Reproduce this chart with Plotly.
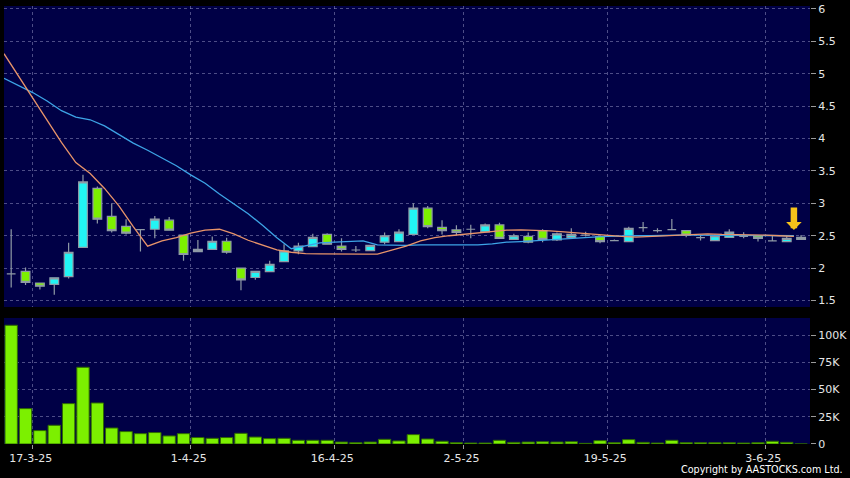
import pandas as pd
import plotly.graph_objects as go

# ---------------- data ----------------
holidays = ["2025-04-04", "2025-04-18", "2025-04-21", "2025-05-01", "2025-05-05"]
trade_dates = [d for d in pd.bdate_range("2025-03-13", "2025-06-05")
               if d.strftime("%Y-%m-%d") not in holidays]
date_keys = [f"{d.day}-{d.month}-{d.strftime('%y')}" for d in trade_dates]

tick_labels = ["17-3-25", "1-4-25", "16-4-25", "2-5-25", "19-5-25", "3-6-25"]

opens = [1.91, 1.95, 1.77, 1.75, 1.87, 2.32, 3.23, 2.80, 2.645, 2.595,
         2.60, 2.74, 2.51, 2.255, 2.29, 2.415, 2.00, 1.855, 1.945, 2.10,
         2.265, 2.33, 2.52, 2.34, 2.28, 2.27, 2.40, 2.41, 2.52, 2.925,
         2.63, 2.59, 2.60, 2.56, 2.667, 2.445, 2.49, 2.58, 2.435, 2.475,
         2.51, 2.49, 2.425, 2.41, 2.625, 2.58, 2.595, 2.58, 2.47, 2.425,
         2.475, 2.49, 2.50, 2.42, 2.41, 2.445]
highs = [2.60, 2.01, 1.77, 1.86, 2.39, 3.44, 3.26, 3.00, 2.755, 2.60,
         2.805, 2.79, 2.51, 2.435, 2.49, 2.47, 2.00, 1.95, 2.115, 2.37,
         2.39, 2.53, 2.54, 2.46, 2.34, 2.36, 2.55, 2.60, 3.00, 2.96,
         2.74, 2.66, 2.67, 2.69, 2.70, 2.53, 2.55, 2.60, 2.55, 2.615,
         2.56, 2.49, 2.44, 2.64, 2.71, 2.615, 2.76, 2.58, 2.51, 2.52,
         2.60, 2.555, 2.50, 2.505, 2.50, 2.51]
lows = [1.70, 1.74, 1.67, 1.59, 1.84, 2.32, 2.69, 2.55, 2.52, 2.255,
        2.46, 2.585, 2.115, 2.25, 2.29, 2.22, 1.66, 1.82, 1.94, 2.10,
        2.215, 2.33, 2.37, 2.255, 2.25, 2.27, 2.37, 2.41, 2.52, 2.615,
        2.52, 2.51, 2.46, 2.56, 2.46, 2.44, 2.385, 2.40, 2.42, 2.475,
        2.49, 2.385, 2.42, 2.41, 2.56, 2.55, 2.59, 2.475, 2.425, 2.425,
        2.475, 2.46, 2.41, 2.42, 2.41, 2.445]
closes = [1.91, 1.78, 1.72, 1.85, 2.245, 3.33, 2.755, 2.58, 2.54, 2.595,
          2.755, 2.585, 2.21, 2.29, 2.415, 2.245, 1.82, 1.95, 2.06, 2.265,
          2.34, 2.475, 2.37, 2.29, 2.28, 2.35, 2.50, 2.555, 2.925, 2.64,
          2.58, 2.55, 2.60, 2.667, 2.46, 2.50, 2.40, 2.445, 2.53, 2.52,
          2.51, 2.41, 2.425, 2.615, 2.625, 2.58, 2.595, 2.51, 2.47, 2.50,
          2.555, 2.49, 2.46, 2.42, 2.46, 2.475]
ma_fast = [5.31, 4.97, 4.63, 4.28, 3.94, 3.63, 3.46, 3.23, 2.96, 2.64,
           2.34, 2.42, 2.47, 2.54, 2.585, 2.60, 2.53, 2.43, 2.36, 2.28,
           2.245, 2.225, 2.22, 2.215, 2.215, 2.215, 2.215, 2.28, 2.34, 2.42,
           2.47, 2.50, 2.52, 2.54, 2.56, 2.585, 2.59, 2.585, 2.575, 2.56,
           2.54, 2.52, 2.50, 2.49, 2.48, 2.49, 2.50, 2.52, 2.53, 2.53,
           2.52, 2.52, 2.51, 2.51, 2.50, 2.49]
ma_slow = [4.93, 4.82, 4.71, 4.58, 4.43, 4.33, 4.29, 4.195, 4.06, 3.93,
           3.82, 3.70, 3.58, 3.44, 3.31, 3.145, 2.99, 2.84, 2.66, 2.47,
           2.30, 2.35, 2.39, 2.40, 2.41, 2.42, 2.36, 2.35, 2.35, 2.36,
           2.36, 2.36, 2.36, 2.36, 2.375, 2.40, 2.41, 2.425, 2.44, 2.46,
           2.47, 2.48, 2.49, 2.50, 2.50, 2.50, 2.51, 2.51, 2.51, 2.51,
           2.51, 2.51, 2.50, 2.50, 2.50, 2.50]
volumes = [109100, 32500, 12300, 17200, 37100, 70500, 37700, 14700, 11400, 9500,
           10500, 7400, 9500, 5900, 5200, 5900, 9800, 6400, 4900, 5200,
           3400, 3400, 3400, 1800, 1200, 1800, 4300, 2800, 8600, 4600,
           2500, 1200, 900, 900, 3400, 1500, 1800, 2100, 1800, 2100,
           600, 3100, 1200, 4000, 1500, 900, 3400, 1200, 1200, 1200,
           1200, 900, 1200, 2500, 1500, 0]

price_ticks = [1.5, 2, 2.5, 3, 3.5, 4, 4.5, 5, 5.5, 6]
price_tick_text = ["1.5", "2", "2.5", "3", "3.5", "4", "4.5", "5", "5.5", "6"]
vol_ticks = [0, 25000, 50000, 75000, 100000]
vol_tick_text = ["0", "25K", "50K", "75K", "100K"]

# ---------------- positions ----------------
n = len(trade_dates)
day_pos = list(range(n))                 # time position of each session
bar_pos = [d + 0.5 for d in day_pos]     # candles / volume drawn in the slot
tick_pos = [date_keys.index(t) for t in tick_labels]

# ---------------- style ----------------
NAVY = "#000046"
GRID = "rgba(140,140,190,0.55)"
EDGE = "#8f9aa6"
UP = "#22f4f4"
DOWN = "#7cf000"
FONT = "DejaVu Sans"
TXT = "#e6e6e6"

fig = go.Figure()
fig.add_trace(go.Candlestick(
    x=bar_pos, open=opens, high=highs, low=lows, close=closes,
    xaxis="x", yaxis="y", whiskerwidth=0,
    increasing=dict(fillcolor=UP, line=dict(color=EDGE, width=1.2)),
    decreasing=dict(fillcolor=DOWN, line=dict(color=EDGE, width=1.2)),
    hoverinfo="skip", showlegend=False))
fig.add_trace(go.Scatter(x=day_pos, y=ma_slow, mode="lines", xaxis="x", yaxis="y",
                         line=dict(color="#3da4e6", width=1.3), showlegend=False,
                         hoverinfo="skip"))
fig.add_trace(go.Scatter(x=day_pos, y=ma_fast, mode="lines", xaxis="x", yaxis="y",
                         line=dict(color="#e8946a", width=1.3), showlegend=False,
                         hoverinfo="skip"))
fig.add_trace(go.Bar(x=bar_pos, y=volumes, xaxis="x2", yaxis="y2", width=0.86,
                     marker=dict(color=DOWN, line=dict(color="#2f6a00", width=1)),
                     showlegend=False, hoverinfo="skip"))

xr = [0, 56.12]
common_x = dict(range=xr, tickvals=tick_pos, showgrid=True, gridcolor=GRID,
                griddash="3px,3px", gridwidth=1, zeroline=False, showline=False,
                fixedrange=True)

fig.update_layout(
    width=850, height=478,
    margin=dict(l=4, r=40, t=6, b=34),
    paper_bgcolor="#000000", plot_bgcolor=NAVY,
    font=dict(family=FONT, size=11, color=TXT),
    boxgap=0.13,
    xaxis=dict(**common_x, anchor="y", domain=[0, 1], showticklabels=False,
               ticks="", rangeslider=dict(visible=False)),
    xaxis2=dict(**common_x, anchor="y2", domain=[0, 1], ticktext=tick_labels,
                ticks="outside", ticklen=4, tickcolor="#9a9a9a", ticklabelshift=-2,
                tickfont=dict(family=FONT, size=11, color=TXT)),
    yaxis=dict(domain=[0.3128, 1], range=[1.40, 6.046], anchor="x", side="right",
               tickvals=price_ticks, ticktext=price_tick_text, ticks="outside",
               ticklen=5, tickcolor="#9a9a9a", showgrid=True, gridcolor=GRID,
               griddash="3px,3px", zeroline=False, showline=False, fixedrange=True,
               tickfont=dict(family=FONT, size=11, color=TXT)),
    yaxis2=dict(domain=[0, 0.2877], range=[0, 115800], anchor="x2", side="right",
                tickvals=vol_ticks, ticktext=vol_tick_text, ticks="outside",
                ticklen=5, tickcolor="#9a9a9a", showgrid=True, gridcolor=GRID,
                griddash="3px,3px", zeroline=False, showline=False, fixedrange=True,
                tickfont=dict(family=FONT, size=11, color=TXT)),
    annotations=[
        dict(x=day_pos[-1], y=2.59, xref="x", yref="y", text="", showarrow=True,
             ax=0, ay=-24, arrowhead=1, arrowsize=0.4, arrowwidth=6.5,
             arrowcolor="#f7c21a"),
        dict(x=1.0434, y=-0.059, xref="paper", yref="paper",
             text="Copyright by AASTOCKS.com Ltd.", showarrow=False,
             xanchor="right", yanchor="middle",
             font=dict(family=FONT, size=9.6, color="#ffffff")),
    ],
)

fig.write_html(
    "out.html",
    config={"displayModeBar": False},
    post_script="document.body.style.margin='0';document.body.style.background='#000';"
                "document.body.style.overflow='hidden';",
)
